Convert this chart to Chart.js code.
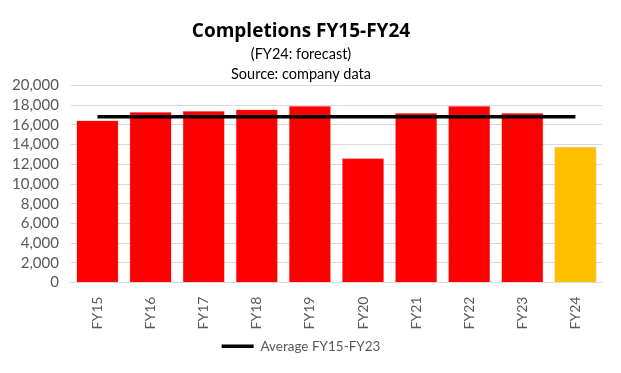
<!DOCTYPE html>
<html>
<head>
<meta charset="utf-8">
<script src="https://cdn.jsdelivr.net/npm/chart.js@4"></script>
<style>
  html, body { margin: 0; padding: 0; background: #fff; }
  #wrap { width: 621px; height: 373px; }
</style>
</head>
<body>
<div id="wrap"><canvas id="chart"></canvas></div>
<script>
const categories = ['FY15', 'FY16', 'FY17', 'FY18', 'FY19', 'FY20', 'FY21', 'FY22', 'FY23', 'FY24'];
const completions = [16450, 17300, 17400, 17550, 17900, 12600, 17200, 17900, 17200, 13750];
const average = [16830, 16830, 16830, 16830, 16830, 16830, 16830, 16830, 16830, 16830];
const barColors = ['#ff0000', '#ff0000', '#ff0000', '#ff0000', '#ff0000', '#ff0000', '#ff0000', '#ff0000', '#ff0000', '#ffc000'];

const font = 'Lato, "Open Sans", sans-serif';
const grey = '#595959';

new Chart(document.getElementById('chart'), {
  data: {
    labels: categories,
    datasets: [
      {
        type: 'line',
        label: 'Average FY15-FY23',
        data: average,
        borderColor: '#000',
        backgroundColor: '#000',
        borderWidth: 3.5,
        pointRadius: 0,
        order: 0,
      },
      {
        type: 'bar',
        label: 'Completions',
        data: completions,
        backgroundColor: barColors,
        borderColor: '#ff8080',
        borderWidth: 0.5,
        barPercentage: 0.79,
        categoryPercentage: 1,
        order: 1,
      },
    ],
  },
  options: {
    responsive: true,
    maintainAspectRatio: false,
    animation: false,
    layout: { padding: { top: 20, right: 19, bottom: 10, left: 0 } },
    plugins: {
      title: {
        display: true,
        text: 'Completions FY15-FY24',
        color: '#000',
        font: { family: '"Open Sans", sans-serif', size: 19, weight: 'bold' },
        padding: { top: 0, bottom: 1 },
      },
      subtitle: {
        display: true,
        text: ['(FY24: forecast)', 'Source: company data'],
        color: '#000',
        font: { family: font, size: 14.5, lineHeight: 1.4 },
        padding: { top: 0, bottom: 1 },
      },
      legend: {
        position: 'bottom',
        labels: {
          filter: item => item.text !== 'Completions',
          usePointStyle: true,
          pointStyle: 'line',
          pointStyleWidth: 32,
          color: grey,
          padding: 4,
          font: { family: font, size: 13.5 },
        },
      },
      tooltip: { enabled: false },
    },
    scales: {
      x: {
        grid: { display: false },
        border: { color: '#d9d9d9' },
        ticks: {
          autoSkip: false,
          color: grey,
          maxRotation: 90,
          minRotation: 90,
          font: { family: font, size: 14 },
          padding: 6,
        },
      },
      y: {
        min: 0,
        max: 20000,
        border: { display: false },
        grid: { color: '#d9d9d9', drawTicks: false },
        ticks: {
          autoSkip: false,
          stepSize: 2000,
          color: grey,
          padding: 12,
          font: { family: font, size: 15 },
          callback: v => v.toLocaleString('en-US'),
        },
      },
    },
  },
});
</script>
</body>
</html>
